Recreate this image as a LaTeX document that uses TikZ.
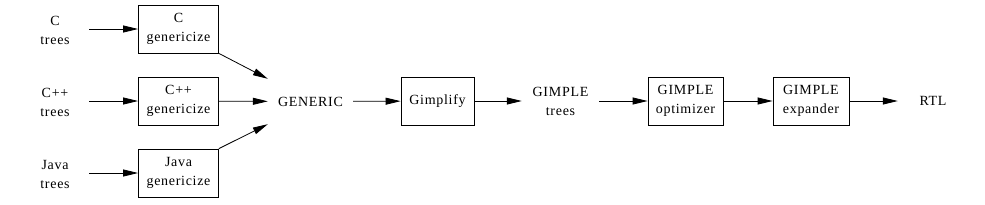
\documentclass[tikz,border=0pt]{standalone}
\usepackage{fontspec}
\setmainfont{Liberation Serif}[LetterSpace=5]
\usetikzlibrary{arrows.meta}
\begin{document}
\begin{tikzpicture}[x=1pt,y=-1pt,
  every node/.style={font=\fontsize{14}{19}\selectfont, align=center, inner sep=0pt},
  box/.style={draw, line width=0.8pt, minimum height=48pt},
  txt/.style={minimum height=45pt},
  arr/.style={line width=0.8pt, -{Triangle[length=15pt,width=7pt]}}]
\useasboundingbox (0,0) rectangle (985,204);
\node[txt, minimum width=68pt] (ct) at (55,30) {C\\trees};
\node[txt, minimum width=68pt] (cpt) at (55,102) {C++\\trees};
\node[txt, minimum width=68pt] (jt) at (55,174) {Java\\trees};
\node[box, minimum width=80pt] (cg) at (178.5,29) {C\\genericize};
\node[box, minimum width=80pt] (cpg) at (178.5,101) {C++\\genericize};
\node[box, minimum width=80pt] (jg) at (178.5,173) {Java\\genericize};
\node[txt, minimum width=85pt] (gen) at (310.5,101.5) {GENERIC};
\node[box, minimum width=73pt] (gimp) at (437.5,101) {Gimplify};
\node[txt, minimum width=77pt] (gt) at (560.5,101) {GIMPLE\\trees};
\node[box, minimum width=75pt] (opt) at (685.5,101) {GIMPLE\\optimizer};
\node[box, minimum width=76pt] (exp) at (811,101) {GIMPLE\\expander};
\node[txt, minimum width=70pt] (rtl) at (933,101) {RTL};
\draw[arr] (ct.east |- cg) -- (cg);
\draw[arr] (cpt.east |- cpg) -- (cpg);
\draw[arr] (jt.east |- jg) -- (jg);
\draw[arr] (cg.south east) -- (gen.north west);
\draw[arr] (cpg) -- (gen);
\draw[arr] (jg.north east) -- (gen.south west);
\draw[arr] (gen) -- (gimp);
\draw[arr] (gimp) -- (gt);
\draw[arr] (gt) -- (opt);
\draw[arr] (opt) -- (exp);
\draw[arr] (exp) -- (rtl);
\end{tikzpicture}
\end{document}
